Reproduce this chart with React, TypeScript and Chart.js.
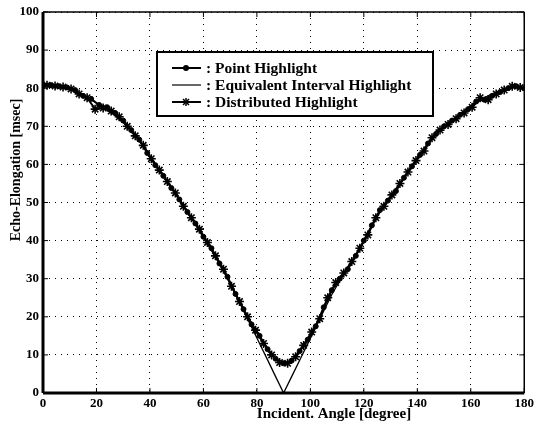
import React, { useEffect, useRef } from "react";
import { Chart, registerables } from "chart.js";

Chart.register(...registerables);

const pointAngles = [0,3,6,9,12,15,18,21,24,27,30,33,36,39,42,45,48,51,54,57,60,63,66,69,72,75,78,81,84,87,90,93,96,99,102,105,108,111,114,117,120,123,126,129,132,135,138,141,144,147,150,153,156,159,162,165,168,171,174,177,180];
const pointValues = [80.8,80.8,80.5,80.2,79.5,78.0,77.2,75.6,75.0,73.5,71.5,69.0,66.5,63.0,59.8,57.0,53.8,50.8,47.5,44.5,41.0,38.0,34.0,30.5,26.0,22.0,18.0,15.0,11.5,9.0,7.8,8.5,11.0,14.0,17.5,22.5,27.0,30.0,32.5,36.0,40.0,44.0,48.0,50.5,53.0,56.5,59.5,62.5,65.5,68.0,70.0,71.5,73.0,74.5,76.5,77.0,78.0,79.0,80.0,80.5,80.0];

const distAngles = [1.5,4.5,7.5,10.5,13.5,16.5,19.5,22.5,25.5,28.5,31.5,34.5,37.5,40.5,43.5,46.5,49.5,52.5,55.5,58.5,61.5,64.5,67.5,70.5,73.5,76.5,79.5,82.5,85.5,88.5,91.5,94.5,97.5,100.5,103.5,106.5,109.5,112.5,115.5,118.5,121.5,124.5,127.5,130.5,133.5,136.5,139.5,142.5,145.5,148.5,151.5,154.5,157.5,160.5,163.5,166.5,169.5,172.5,175.5,178.5];
const distValues = [80.8,80.6,80.3,79.8,78.5,77.5,74.5,74.8,74.0,72.5,70.0,67.5,65.0,61.5,58.5,55.5,52.5,49.0,46.0,43.0,39.5,36.0,32.5,28.0,24.0,20.0,16.5,13.0,10.0,8.0,7.8,9.5,12.5,16.0,19.5,25.0,29.0,31.5,34.5,38.0,41.5,46.0,49.0,52.0,55.0,58.0,61.0,63.5,67.0,69.0,70.5,72.0,73.5,75.0,77.5,77.0,78.5,79.5,80.5,80.2];

const equivAngles = [0,3,6,9,12,15,18,21,24,27,30,33,36,39,42,45,48,51,54,57,60,63,66,69,72,75,78,81,84,87,90,93,96,99,102,105,108,111,114,117,120,123,126,129,132,135,138,141,144,147,150,153,156,159,162,165,168,171,174,177,180];
const equivValues = [80.8,80.7,80.4,80.0,79.2,78.2,77.0,75.6,74.3,72.8,71.0,69.0,66.5,63.3,60.0,57.0,54.0,50.8,47.5,44.3,40.8,37.4,33.8,30.0,26.0,21.6,17.3,13.0,8.7,4.3,0.0,4.3,8.6,12.9,17.2,21.5,25.8,29.5,32.5,36.0,39.8,43.8,47.5,50.5,53.5,56.5,59.5,62.5,65.5,68.0,70.0,71.7,73.2,74.8,76.3,77.5,78.5,79.3,80.0,80.3,80.0];

const xTicks = [0,20,40,60,80,100,120,140,160,180];
const yTicks = [0,10,20,30,40,50,60,70,80,90,100];
const seriesNames = ["Point Highlight", "Equivalent Interval Highlight", "Distributed Highlight"];
const xTitle = "Incident. Angle [degree]";
const yTitle = "Echo-Elongation [msec]";

const FONT = '"Liberation Serif", "DejaVu Serif", serif';

const toXY = (xs: number[], ys: number[]) => xs.map((x, i) => ({ x, y: ys[i] }));

const framePlugin = {
  id: "frame",
  afterDraw(chart: any) {
    const { ctx, chartArea: a, scales } = chart;
    ctx.save();
    ctx.strokeStyle = "#000";
    ctx.lineWidth = 1;
    const seg = (x1: number, y1: number, x2: number, y2: number) => {
      ctx.beginPath(); ctx.moveTo(x1, y1); ctx.lineTo(x2, y2); ctx.stroke();
    };
    xTicks.forEach((v) => {
      const px = scales.x.getPixelForValue(v);
      seg(px, a.top, px, a.top + 5);
      seg(px, a.bottom, px, a.bottom - 5);
    });
    yTicks.forEach((v) => {
      const py = scales.y.getPixelForValue(v);
      seg(a.left, py, a.left + 5, py);
      seg(a.right, py, a.right - 5, py);
    });
    ctx.lineWidth = 1.5;
    seg(a.left, a.top, a.right, a.top);
    seg(a.right, a.top, a.right, a.bottom);
    ctx.lineWidth = 3;
    seg(a.left, a.bottom, a.right, a.bottom);
    seg(a.left, a.top, a.left, a.bottom);

    // legend box
    const bx = 157, by = 52, bw = 276, bh = 64;
    ctx.fillStyle = "#fff";
    ctx.fillRect(bx, by, bw, bh);
    ctx.lineWidth = 2;
    ctx.strokeRect(bx, by, bw, bh);
    ctx.font = `bold 15.5px ${FONT}`;
    ctx.fillStyle = "#000";
    ctx.textBaseline = "middle";
    ctx.textAlign = "left";
    const rows = [68, 85, 102];
    rows.forEach((ry, i) => {
      ctx.lineWidth = i === 1 ? 1.2 : 2;
      seg(172, ry, 201, ry);
      if (i === 0) {
        ctx.beginPath(); ctx.arc(186, ry, 3, 0, Math.PI * 2); ctx.fill();
      } else if (i === 2) {
        ctx.lineWidth = 1.5;
        seg(182, ry, 190, ry); seg(186, ry - 4, 186, ry + 4);
        seg(183, ry - 3, 189, ry + 3); seg(183, ry + 3, 189, ry - 3);
      }
      ctx.fillText(": " + seriesNames[i], 206, ry + 1);
    });

    // axis titles
    ctx.font = `bold 15px ${FONT}`;
    ctx.textAlign = "center";
    ctx.fillText(xTitle, 334, 414);
    ctx.font = `bold 14px ${FONT}`;
    ctx.translate(16, 170);
    ctx.rotate(-Math.PI / 2);
    ctx.fillText(yTitle, 0, 0);
    ctx.restore();
  },
};

export default function App() {
  const ref = useRef<HTMLCanvasElement | null>(null);
  useEffect(() => {
    if (!ref.current) return;
    const chart = new Chart(ref.current, {
      type: "scatter",
      data: {
        datasets: [
          {
            label: seriesNames[0],
            data: toXY(pointAngles, pointValues),
            showLine: true,
            borderColor: "#000",
            backgroundColor: "#000",
            borderWidth: 2,
            pointStyle: "circle",
            pointRadius: 2.5,
            pointBorderWidth: 1,
          },
          {
            label: seriesNames[1],
            data: toXY(equivAngles, equivValues),
            showLine: true,
            borderColor: "#000",
            backgroundColor: "#000",
            borderWidth: 1.3,
            pointRadius: 0,
          },
          {
            label: seriesNames[2],
            data: toXY(distAngles, distValues),
            showLine: true,
            borderColor: "#000",
            backgroundColor: "#000",
            borderWidth: 2,
            pointStyle: "star",
            pointRadius: 4.5,
            pointBorderWidth: 1.6,
          },
        ],
      },
      options: {
        animation: false,
        responsive: false,
        maintainAspectRatio: false,
        layout: { padding: { top: 12, right: 10, left: 0, bottom: 0 } },
        plugins: { legend: { display: false }, tooltip: { enabled: false } },
        scales: {
          x: {
            type: "linear",
            min: 0,
            max: 180,
            afterBuildTicks: (s: any) => { s.ticks = xTicks.map((v) => ({ value: v })); },
            afterFit: (s: any) => { s.height = 35; },
            grid: { color: "#000", lineWidth: 1, drawTicks: false },
            border: { display: false, dash: [1, 5] },
            ticks: { color: "#000", padding: 3, font: { family: FONT, size: 13, weight: "bold" }, maxRotation: 0 },
          },
          y: {
            type: "linear",
            min: 0,
            max: 100,
            afterBuildTicks: (s: any) => { s.ticks = yTicks.map((v) => ({ value: v })); },
            afterFit: (s: any) => { s.width = 43; },
            grid: { color: "#000", lineWidth: 1, drawTicks: false },
            border: { display: false, dash: [1, 5] },
            ticks: { color: "#000", padding: 4, font: { family: FONT, size: 13, weight: "bold" } },
          },
        },
      },
      plugins: [framePlugin],
    });
    return () => chart.destroy();
  }, []);
  return (
    <div style={{ position: "absolute", left: 0, top: 0, width: 537, height: 428, background: "#fff" }}>
      <canvas ref={ref} width={537} height={428} style={{ display: "block", width: 537, height: 428 }} />
    </div>
  );
}
